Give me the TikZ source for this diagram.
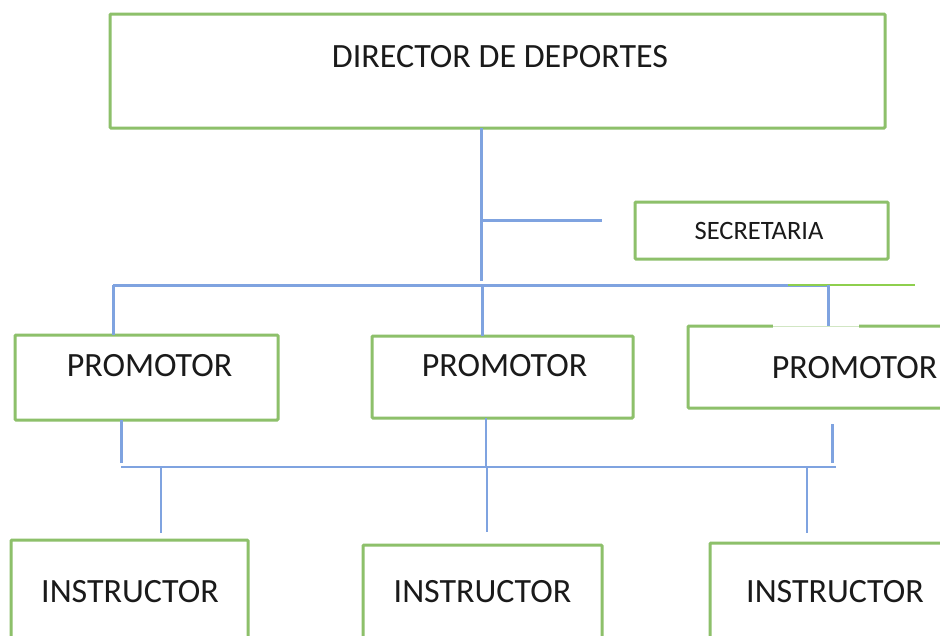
\documentclass[tikz,border=0pt]{standalone}
\usepackage{fontspec}
\setmainfont{Carlito}
\definecolor{boxgreen}{HTML}{8DC06A}
\definecolor{linkblue}{HTML}{7FA3E0}
\definecolor{brightgreen}{HTML}{8ECF4E}
\definecolor{ink}{HTML}{1A1A1A}
\begin{document}
\begin{tikzpicture}[x=1pt,y=-1pt,
  box/.style={draw=boxgreen, line width=3pt, rounded corners=1pt, inner sep=0pt, outer sep=0pt, anchor=north west},
  lbl/.style={text=ink, inner sep=0pt, anchor=base, font=\fontsize{34}{38}\selectfont},
  smalllbl/.style={lbl, font=\fontsize{26.5}{30}\selectfont},
  thicklink/.style={draw=linkblue, line width=3pt},
  midlink/.style={draw=linkblue, line width=2.2pt},
  thinlink/.style={draw=linkblue, line width=1.5pt}]
\useasboundingbox (0,0) rectangle (940,635);
\clip (0,0) rectangle (940,635);
\fill[white] (0,0) rectangle (940,635);

% boxes
\node[box, minimum width=775pt, minimum height=114pt] (dir) at (110,14) {};
\node[box, minimum width=253pt, minimum height=57pt] (sec) at (635,202) {};
\node[box, minimum width=263pt, minimum height=85pt] (p1) at (15,335) {};
\node[box, minimum width=261pt, minimum height=82pt] (p2) at (372,336) {};
\node[box, minimum width=270pt, minimum height=82pt] (p3) at (688,326) {};
\node[box, minimum width=237pt, minimum height=120pt] (i1) at (11,540) {};
\node[box, minimum width=239pt, minimum height=120pt] (i2) at (363,545) {};
\node[box, minimum width=270pt, minimum height=120pt] (i3) at (710,543) {};

% texts
\node[lbl] (tdir) at (500,67.5) {DIRECTOR DE DEPORTES};
\node[smalllbl] (tsec) at (759,239.5) {SECRETARIA};
\node[lbl] (tp1) at (149.5,376.5) {PROMOTOR};
\node[lbl] (tp2) at (504.5,376.5) {PROMOTOR};
\node[lbl] (tp3) at (854.5,378.5) {PROMOTOR};
\node[lbl] (ti1) at (130,602.5) {INSTRUCTOR};
\node[lbl] (ti2) at (482.5,602.5) {INSTRUCTOR};
\node[lbl] (ti3) at (835,602.5) {INSTRUCTOR};

% reference coordinates
\coordinate (xa) at (481,0);
\coordinate (xb) at (482,0);
\coordinate (busL) at (113,285);
\coordinate (busR) at (828,285);
\coordinate (secEnd) at (602,220);
\coordinate (lowL) at (121,467);
\coordinate (lowM) at (486,467);
\coordinate (lowR) at (836,467);
\coordinate (p3low) at (832,424);
\coordinate (d1) at (161,533);
\coordinate (d2) at (487,532);
\coordinate (d3) at (807,533);

% light gap on top of third promotor box
\draw[white, line width=3.6pt] (773,326) -- (859,326);
\draw[boxgreen!40, line width=1pt] (773,326) -- (859,326);

% upper connectors
\draw[thicklink] (xa |- dir.south) -- (xa |- 0,281);
\draw[thicklink] (xa |- secEnd) -- (secEnd);
\draw[thicklink] (busL) -- (busR);
\draw[brightgreen, line width=2pt] (788,285) -- (915,285);
\draw[thicklink] (busL) -- (busL |- p1.north);
\draw[thicklink] (xb |- busL) -- (xb |- p2.north);
\draw[thicklink] (busR) -- (busR |- p3.north);

% lower connectors
\draw[thicklink] (lowL |- p1.south) -- (lowL |- 0,463);
\draw[midlink] (lowM |- p2.south) -- (lowM);
\draw[thicklink] (p3low) -- (p3low |- 0,463);
\draw[midlink] (lowL) -- (lowR);
\draw[thinlink] (d1 |- lowL) -- (d1);
\draw[thinlink] (d2 |- lowL) -- (d2);
\draw[thinlink] (d3 |- lowL) -- (d3);
\end{tikzpicture}
\end{document}
